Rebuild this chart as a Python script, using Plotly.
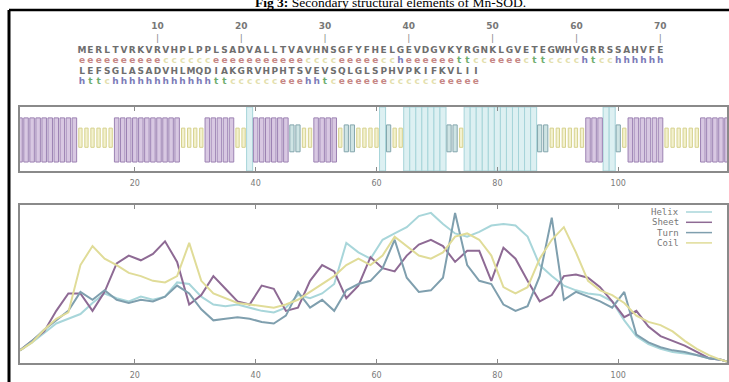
import plotly.graph_objects as go

# ---------------- data ----------------
sequence = ("MERLTVRKVRVHPLPPLSADVALLTVAVHNSGFYFHELGEVDGVKYRGNKLGVETEGWHVGRRSSAHVFE"
            "LEFSGLASADVHLMQDIAKGRVHPHTSVEVSQLGLSPHVPKIFKVLII")
structure = ("eeeeeeeeee" "cccccc" "eeeeeeeeeee" "cccc" "eeeee" "cc" "h" "eeeeee"
             "tt" "cc" "eeee" "c" "tt" "cccc" "h" "t" "cc" "hhhhhhh" "tt" "c"
             "hhhhhhhhhhhh" "tt" "cccccc" "eee" "hh" "t" "c" "eeeeee" "cccccc" "eeeee")
ruler_ticks = [10, 20, 30, 40, 50, 60, 70]
axis_ticks = [20, 40, 60, 80, 100]

profile_residue = [1, 3, 5, 7, 9, 11, 13, 15, 17, 19, 21, 23, 25, 27, 29, 31, 33, 35, 37, 39,
                   41, 43, 45, 47, 49, 51, 53, 55, 57, 59, 61, 63, 65, 67, 69, 71, 73, 75, 77, 79,
                   81, 83, 85, 87, 89, 91, 93, 95, 97, 99, 101, 103, 105, 107, 109, 111, 113, 115, 117, 118]
helix = [.08, .13, .19, .25, .28, .31, .38, .44, .41, .39, .42, .40, .42, .51, .50, .42, .37, .36, .37, .35,
         .33, .32, .35, .43, .41, .44, .50, .76, .70, .66, .78, .82, .86, .93, .95, .88, .82, .80, .83, .87,
         .88, .87, .80, .62, .55, .49, .46, .44, .43, .39, .27, .17, .12, .09, .07, .06, .05, .03, .02, .01]
sheet = [.08, .14, .20, .33, .44, .44, .33, .45, .63, .68, .65, .69, .77, .64, .37, .43, .55, .47, .39, .37,
         .49, .47, .33, .35, .52, .62, .58, .41, .49, .67, .60, .58, .68, .75, .78, .74, .64, .71, .71, .52,
         .73, .66, .52, .39, .43, .55, .56, .54, .48, .39, .29, .33, .23, .17, .14, .11, .07, .03, .02, .01]
turn = [.08, .14, .21, .27, .33, .45, .40, .46, .40, .38, .40, .39, .42, .49, .44, .34, .27, .28, .29, .28,
        .26, .25, .30, .45, .35, .40, .33, .46, .50, .52, .60, .78, .54, .45, .46, .54, .95, .62, .52, .50,
        .37, .33, .36, .55, .92, .40, .45, .42, .39, .35, .45, .18, .13, .10, .08, .07, .05, .03, .02, .01]
coil = [.08, .13, .21, .28, .32, .62, .74, .66, .62, .57, .55, .52, .51, .55, .76, .52, .44, .41, .38, .37,
        .36, .35, .37, .40, .45, .50, .55, .62, .66, .62, .68, .80, .74, .68, .66, .70, .80, .82, .78, .68,
        .48, .44, .48, .66, .78, .86, .70, .52, .46, .43, .38, .30, .26, .24, .20, .14, .09, .05, .02, .01]

# ---------------- styles ----------------
W, H = 729, 382
BAR_STYLE = {  # type: (bottom, top, fill, outline, width)
    "h": (0.0, 1.0, "#ddf0f2", "#a6d4d9", 1.0),
    "e": (0.14, 0.83, "#d8c8e2", "#9c82b3", 0.75),
    "t": (0.30, 0.72, "#cfe4e4", "#84a6ad", 0.7),
    "c": (0.37, 0.67, "#f3f1cf", "#d6d28e", 0.55),
}
SS_TEXT_COLOR = {"e": "#c68684", "c": "#e4dfae", "t": "#6fae6f", "h": "#7b7bb8"}
LINE_COLOR = {"Helix": "#a8d6da", "Sheet": "#8e6a94", "Turn": "#7f9fae", "Coil": "#e0dc98"}
GRID = "#8a8a8a"
LINE_LEN = 70
CH0, PITCH = 82.0, 8.38          # px centre of first char, char pitch
ROW_SEQ = [51, 72]
ROW_SS = [61, 82]
ROW_NUM, ROW_BAR = 27, 39

def py(px):  # pixel row -> paper y
    return 1 - px / H

fig = go.Figure()

# middle panel: secondary structure bars
for t in ["h", "e", "t", "c"]:
    b, tp, fill, edge, wdt = BAR_STYLE[t]
    xs = [i + 1 for i, s in enumerate(structure) if s == t]
    fig.add_trace(go.Bar(x=xs, y=[tp - b] * len(xs), base=[b] * len(xs), width=wdt,
                         marker=dict(color=fill, line=dict(color=edge, width=1)),
                         xaxis="x", yaxis="y", showlegend=False, hoverinfo="skip"))

# bottom panel: profiles
for name, vals in [("Helix", helix), ("Sheet", sheet), ("Turn", turn), ("Coil", coil)]:
    fig.add_trace(go.Scatter(x=profile_residue, y=vals, mode="lines", name=name,
                             line=dict(color=LINE_COLOR[name], width=2),
                             xaxis="x2", yaxis="y2", showlegend=False))

# top panel: sequence and structure text
font_txt = dict(family="DejaVu Sans", size=9, weight="bold")
seq_x, seq_y, ss_x, ss_y, ss_c = [], [], [], [], []
for i, (a, s) in enumerate(zip(sequence, structure)):
    line, col = divmod(i, LINE_LEN)
    seq_x.append(col + 1); seq_y.append(ROW_SEQ[line])
    ss_x.append(col + 1); ss_y.append(ROW_SS[line]); ss_c.append(SS_TEXT_COLOR[s])
fig.add_trace(go.Scatter(x=seq_x, y=seq_y, text=list(sequence), mode="text",
                         textfont=dict(color="#6e6e6e", **font_txt),
                         xaxis="x3", yaxis="y3", showlegend=False, hoverinfo="skip"))
fig.add_trace(go.Scatter(x=ss_x, y=ss_y, text=list(structure), mode="text",
                         textfont=dict(color=ss_c, **font_txt),
                         xaxis="x3", yaxis="y3", showlegend=False, hoverinfo="skip"))
fig.add_trace(go.Scatter(x=ruler_ticks, y=[ROW_NUM] * len(ruler_ticks),
                         text=[str(v) for v in ruler_ticks], mode="text",
                         textfont=dict(color="#777777", **font_txt),
                         xaxis="x3", yaxis="y3", showlegend=False, hoverinfo="skip"))
fig.add_trace(go.Scatter(x=ruler_ticks, y=[ROW_BAR] * len(ruler_ticks),
                         text=["|"] * len(ruler_ticks), mode="text",
                         textfont=dict(color="#888888", family="DejaVu Sans", size=9),
                         xaxis="x3", yaxis="y3", showlegend=False, hoverinfo="skip"))

xdom = [20 / W, 727 / W]
xcommon = dict(range=[1, 118], showgrid=False, zeroline=False, showline=True, linecolor=GRID,
               linewidth=1.5, mirror="ticks", ticks="inside", ticklen=4, tickcolor=GRID,
               tickvals=axis_ticks, tickfont=dict(family="DejaVu Sans", size=8, color="#7a7a7a"),
               ticklabelstandoff=4)
ycommon = dict(range=[0, 1], showgrid=False, zeroline=False, showline=True, linecolor=GRID,
               linewidth=1.5, mirror=True, ticks="", showticklabels=False)

fig.update_layout(
    width=W, height=H, margin=dict(l=0, r=0, t=0, b=0),
    paper_bgcolor="white", plot_bgcolor="rgba(0,0,0,0)", barmode="overlay",
    xaxis=dict(domain=xdom, anchor="y", **xcommon),
    yaxis=dict(domain=[py(171), py(107)], anchor="x", **ycommon),
    xaxis2=dict(domain=xdom, anchor="y2", **xcommon),
    yaxis2=dict(domain=[py(363), py(205)], anchor="x2", **ycommon),
    xaxis3=dict(domain=[0, 1], anchor="y3", visible=False,
                range=[1 - CH0 / PITCH, 1 + (W - CH0) / PITCH]),
    yaxis3=dict(domain=[0, 1], anchor="x3", visible=False, range=[H, 0]),
)

ann = [dict(text="<b>Fig 3:</b> Secondary structural elements of Mn-SOD.",
            x=390 / W, y=py(12), xref="paper", yref="paper", xanchor="center", yanchor="bottom",
            showarrow=False, font=dict(family="Liberation Serif", size=13.5, color="black"))]
shapes = [
    dict(type="line", xref="paper", yref="paper", x0=9 / W, x1=1, y0=py(10), y1=py(10),
         line=dict(color="black", width=2.5)),
    dict(type="line", xref="paper", yref="paper", x0=9 / W, x1=9 / W, y0=py(10), y1=0,
         line=dict(color="black", width=3)),
]
for k, name in enumerate(["Helix", "Sheet", "Turn", "Coil"]):
    row = 212 + k * 10.3
    ann.append(dict(text=name, x=681 / W, y=py(row), xref="paper", yref="paper",
                    xanchor="right", yanchor="middle", showarrow=False,
                    font=dict(family="DejaVu Sans Mono", size=9, color="#777777")))
    shapes.append(dict(type="line", xref="paper", yref="paper", x0=686 / W, x1=712 / W,
                       y0=py(row), y1=py(row), line=dict(color=LINE_COLOR[name], width=1.5)))
fig.update_layout(annotations=ann, shapes=shapes)

fig.write_html("out.html", config={"displayModeBar": False},
               post_script="document.body.style.margin='0';document.body.style.overflow='hidden';")
